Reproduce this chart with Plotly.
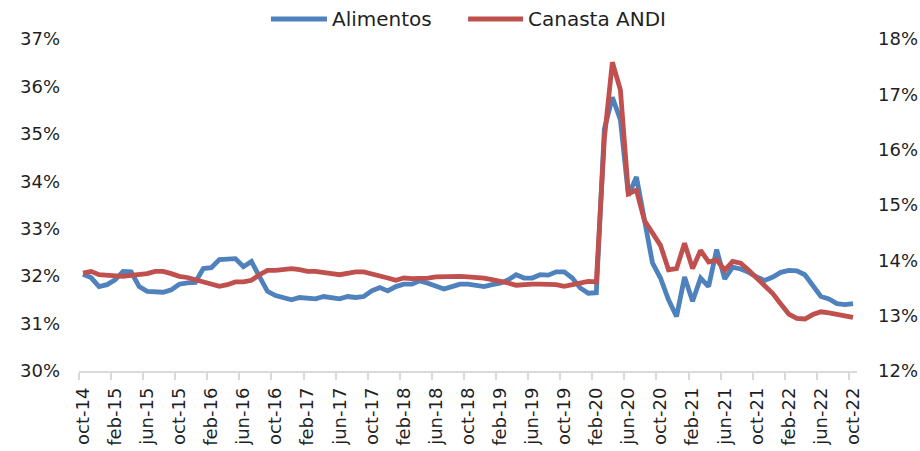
import plotly.graph_objects as go

# ---- data (monthly, oct-14 .. oct-22) ----
alimentos = [
    32.04, 31.97, 31.78, 31.82, 31.92, 32.10, 32.09, 31.78, 31.68, 31.66,
    31.66, 31.71, 31.83, 31.86, 31.87, 32.16, 32.18, 32.35, 32.35, 32.37,
    32.20, 32.31, 31.99, 31.68, 31.59, 31.54, 31.50, 31.55, 31.54, 31.52,
    31.57, 31.55, 31.52, 31.57, 31.55, 31.57, 31.69, 31.76, 31.69, 31.78,
    31.83, 31.83, 31.90, 31.85, 31.80, 31.73, 31.78, 31.83, 31.83, 31.80,
    31.78, 31.82, 31.85, 31.92, 32.03, 31.96, 31.96, 32.03, 32.02, 32.09,
    32.09, 31.96, 31.75, 31.64, 31.65, 35.10, 35.77, 35.30, 33.70, 34.09,
    33.19, 32.28, 31.96, 31.50, 31.15, 31.98, 31.47, 31.96, 31.78, 32.56,
    31.94, 32.19, 32.15, 32.08, 31.98, 31.91, 31.98, 32.08, 32.12, 32.11,
    32.03, 31.80, 31.57, 31.52, 31.42, 31.40, 31.42,
]
canasta_andi = [
    13.77, 13.80, 13.74, 13.73, 13.73, 13.71, 13.73, 13.74, 13.76, 13.80,
    13.80, 13.76, 13.71, 13.69, 13.65, 13.59, 13.57, 13.53, 13.56, 13.61,
    13.61, 13.64, 13.74, 13.82, 13.82, 13.83, 13.85, 13.83, 13.80, 13.80,
    13.77, 13.76, 13.74, 13.77, 13.79, 13.79, 13.76, 13.73, 13.68, 13.64,
    13.68, 13.67, 13.67, 13.68, 13.70, 13.71, 13.71, 13.71, 13.70, 13.70,
    13.68, 13.65, 13.63, 13.59, 13.55, 13.57, 13.57, 13.57, 13.57, 13.56,
    13.53, 13.56, 13.61, 13.62, 13.61, 16.20, 17.58, 17.08, 15.20, 15.27,
    14.72, 14.51, 14.27, 13.83, 13.85, 14.31, 13.85, 14.18, 13.97, 14.01,
    13.82, 13.98, 13.95, 13.82, 13.68, 13.55, 13.40, 13.21, 13.03, 12.95,
    12.94, 13.02, 13.07, 13.05, 13.03, 13.00, 12.97,
]
tick_labels = [
    "oct-14", "feb-15", "jun-15", "oct-15", "feb-16", "jun-16", "oct-16",
    "feb-17", "jun-17", "oct-17", "feb-18", "jun-18", "oct-18", "feb-19",
    "jun-19", "oct-19", "feb-20", "jun-20", "oct-20", "feb-21", "jun-21",
    "oct-21", "feb-22", "jun-22", "oct-22",
]
series_names = ["Alimentos", "Canasta ANDI"]
left_ticks = [30, 31, 32, 33, 34, 35, 36, 37]
right_ticks = [12, 13, 14, 15, 16, 17, 18]

n = len(alimentos)
months = list(range(n))
label_step = 4
tickvals = months[::label_step]
boundary_vals = [v - 0.5 for v in tickvals]

BLUE = "#4F81BD"
RED = "#C0504D"
TEXT = "#1f1f1f"
AXIS = "#d9d9d9"
FONT = "DejaVu Sans"

fig = go.Figure()
fig.add_trace(go.Scatter(
    x=months, y=alimentos, name=series_names[0], mode="lines",
    line=dict(color=BLUE, width=4.8), yaxis="y",
    showlegend=False,
))
fig.add_trace(go.Scatter(
    x=months, y=canasta_andi, name=series_names[1], mode="lines",
    line=dict(color=RED, width=4.8), yaxis="y2",
    showlegend=False,
))

fig.update_layout(
    width=920, height=451,
    margin=dict(l=79, r=63, t=39, b=80, autoexpand=False),
    paper_bgcolor="white", plot_bgcolor="white",
    font=dict(family=FONT, color=TEXT, size=18),
    xaxis=dict(
        range=[-0.5, n - 0.5], tickmode="array", tickvals=tickvals,
        ticktext=tick_labels, tickangle=-90, ticks="", showgrid=False,
        zeroline=False, showline=False, tickfont=dict(size=18, color=TEXT),
        ticklabelstandoff=12, automargin=False,
    ),
    xaxis2=dict(
        overlaying="x", anchor="y", side="bottom",
        range=[-0.5, n - 0.5], tickmode="array", tickvals=boundary_vals,
        showticklabels=False, ticks="outside", ticklen=7, tickwidth=1.5,
        tickcolor=AXIS, showline=True, linecolor=AXIS, linewidth=2,
        showgrid=False, zeroline=False, automargin=False,
    ),
    yaxis=dict(
        range=[30, 37], tickmode="array", tickvals=left_ticks,
        ticktext=[f"{v}%" for v in left_ticks], showgrid=False,
        zeroline=False, showline=False, ticks="",
        tickfont=dict(size=18, color=TEXT), ticklabelstandoff=18,
        automargin=False,
    ),
    yaxis2=dict(
        range=[12, 18], tickmode="array", tickvals=right_ticks,
        ticktext=[f"{v}%" for v in right_ticks], overlaying="y",
        side="right", showgrid=False, zeroline=False, showline=False,
        ticks="", tickfont=dict(size=18, color=TEXT), ticklabelstandoff=20,
        automargin=False,
    ),
)

# dummy trace so the boundary-tick axis is drawn
fig.add_trace(go.Scatter(x=[None], y=[None], xaxis="x2", yaxis="y",
                         showlegend=False, hoverinfo="skip"))

# legend drawn at the top (line samples + labels)
legend_items = [
    (series_names[0], BLUE, 0.2467, 0.3187),
    (series_names[1], RED, 0.5001, 0.5708),
]
for name, color, x0, x1 in legend_items:
    fig.add_shape(type="line", xref="paper", yref="paper",
                  x0=x0, x1=x1, y0=1.060, y1=1.060,
                  line=dict(color=color, width=5))
    fig.add_annotation(xref="paper", yref="paper", x=x1 + 0.004, y=1.060,
                       text=name, showarrow=False, xanchor="left",
                       yanchor="middle", font=dict(size=20, color=TEXT))

fig.write_html("out.html", config={"displayModeBar": False},
               post_script="document.body.style.margin='0px';")
